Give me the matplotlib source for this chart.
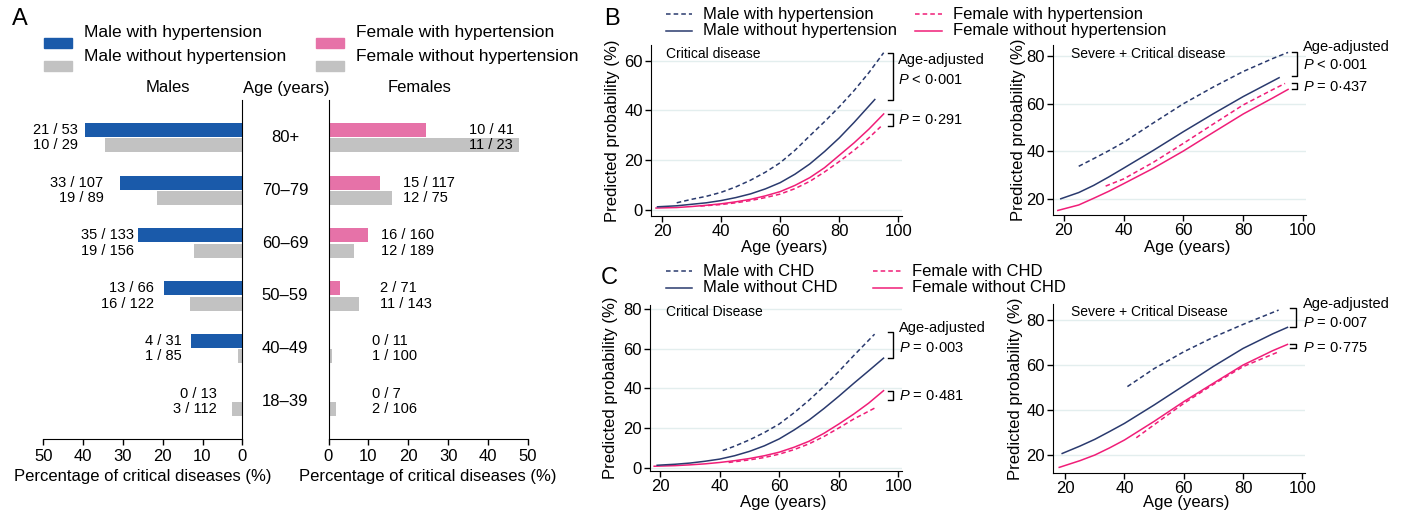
import numpy as np
import matplotlib
matplotlib.use("Agg")
import matplotlib.pyplot as plt
import matplotlib.transforms as mtrans
from matplotlib.patches import Rectangle
from matplotlib.lines import Line2D

plt.rcParams['font.family'] = ['Liberation Sans', 'DejaVu Sans']
plt.rcParams['mathtext.fontset'] = 'custom'
plt.rcParams['mathtext.it'] = 'Liberation Sans:italic'
plt.rcParams['mathtext.rm'] = 'Liberation Sans'

# ---------------- Panel A data ----------------
age_groups = ['80+', '70–79', '60–69', '50–59', '40–49', '18–39']
male_htn_n = [21, 33, 35, 13, 4, 0]
male_htn_N = [53, 107, 133, 66, 31, 13]
male_nohtn_n = [10, 19, 19, 16, 1, 3]
male_nohtn_N = [29, 89, 156, 122, 85, 112]
female_htn_n = [10, 15, 16, 2, 0, 0]
female_htn_N = [41, 117, 160, 71, 11, 7]
female_nohtn_n = [11, 12, 12, 11, 1, 2]
female_nohtn_N = [23, 75, 189, 143, 100, 106]
pct_ticks = [0, 10, 20, 30, 40, 50]

# ---------------- Panel B data (hypertension) ----------------
b1_mh_age = [25, 30, 35, 40, 45, 50, 55, 60, 65, 70, 75, 80, 85, 90, 95]
b1_mh = [2.9, 4.3, 5.5, 7.1, 9.3, 12.0, 15.2, 19.0, 24.0, 29.8, 35.5, 41.5, 48.0, 55.2, 63.2]
b1_m_age = [18.5, 25, 30, 35, 40, 45, 50, 55, 60, 65, 70, 75, 80, 85, 92]
b1_m = [1.3, 1.7, 2.3, 2.9, 3.8, 5.0, 6.5, 8.5, 11.0, 14.4, 18.5, 23.5, 29.0, 35.2, 44.4]
b1_fh_age = [33, 40, 45, 50, 55, 60, 65, 70, 75, 80, 85, 90, 94]
b1_fh = [1.6, 2.2, 2.9, 3.8, 5.0, 6.4, 8.6, 11.5, 15.3, 19.5, 24.0, 29.0, 33.5]
b1_f_age = [18, 25, 30, 35, 40, 45, 50, 55, 60, 65, 70, 75, 80, 85, 90, 95]
b1_f = [0.8, 1.0, 1.4, 1.9, 2.5, 3.3, 4.3, 5.7, 7.4, 9.9, 13.0, 17.0, 22.0, 27.0, 32.5, 38.6]

b2_mh_age = [25, 30, 35, 40, 50, 60, 70, 80, 90, 95]
b2_mh = [33.8, 37.0, 40.3, 43.8, 52.0, 60.0, 67.0, 73.5, 79.0, 81.5]
b2_m_age = [19, 25, 30, 35, 40, 50, 60, 70, 80, 92]
b2_m = [20.2, 22.8, 25.8, 29.3, 33.0, 40.5, 48.3, 55.8, 63.0, 70.9]
b2_fh_age = [34, 40, 50, 60, 70, 80, 90, 94]
b2_fh = [25.5, 28.5, 35.5, 43.4, 51.5, 59.5, 66.0, 68.5]
b2_f_age = [18, 25, 30, 35, 40, 50, 60, 70, 80, 90, 95]
b2_f = [15.3, 17.6, 20.4, 23.3, 26.5, 33.0, 40.2, 48.0, 55.7, 62.5, 66.0]

# ---------------- Panel C data (CHD) ----------------
c1_mh_age = [41, 45, 50, 55, 60, 65, 70, 75, 80, 85, 92]
c1_mh = [8.6, 10.8, 14.0, 17.7, 22.0, 27.7, 34.0, 41.0, 48.5, 56.5, 67.3]
c1_m_age = [19, 25, 30, 35, 40, 45, 50, 55, 60, 65, 70, 75, 80, 85, 90, 95]
c1_m = [1.2, 1.7, 2.3, 3.2, 4.3, 6.0, 8.2, 11.0, 14.5, 19.0, 24.0, 29.8, 36.0, 42.5, 48.8, 55.2]
c1_fh_age = [43, 50, 55, 60, 65, 70, 75, 80, 85, 92]
c1_fh = [2.6, 3.9, 5.1, 6.8, 9.1, 12.0, 15.7, 20.0, 24.5, 30.0]
c1_f_age = [18, 25, 30, 35, 40, 45, 50, 55, 60, 65, 70, 75, 80, 85, 90, 95]
c1_f = [0.7, 1.0, 1.4, 1.9, 2.6, 3.5, 4.6, 6.0, 7.8, 10.3, 13.3, 17.3, 22.0, 27.0, 32.5, 38.8]

c2_mh_age = [41, 50, 60, 70, 80, 92]
c2_mh = [50.5, 58.5, 66.0, 72.5, 78.2, 84.6]
c2_m_age = [19, 25, 30, 35, 40, 50, 60, 70, 80, 90, 95]
c2_m = [20.7, 24.0, 27.0, 30.5, 34.1, 42.3, 50.9, 59.5, 67.5, 74.0, 76.9]
c2_fh_age = [44, 50, 60, 70, 80, 92]
c2_fh = [27.7, 33.5, 43.0, 51.5, 59.4, 66.0]
c2_f_age = [18, 25, 30, 35, 40, 50, 60, 70, 80, 90, 95]
c2_f = [14.5, 17.5, 20.0, 23.2, 26.7, 35.0, 43.8, 52.0, 60.1, 66.5, 69.3]

age_ticks = [20, 40, 60, 80, 100]

# ---------------- styles ----------------
BLUE = '#1a5aaa'
PINK_BAR = '#e672a8'
GREY = '#c2c2c2'
NAVY = '#2a3a6e'
PINK = '#f01e78'
GRID = '#e3eeee'
DASH = (0, (3, 2))

W, H = 1403, 517
fig = plt.figure(figsize=(W / 100, H / 100), dpi=100)
pxT = mtrans.Affine2D().scale(1 / W, -1 / H).translate(0, 1) + fig.transFigure


def rect(l, r, t, b):
    return [l / W, 1 - b / H, (r - l) / W, (b - t) / H]


def ptext(x, y, s, **kw):
    fig.text(x, y, s, transform=pxT, **kw)


# ================= Panel A =================
ypos = np.arange(len(age_groups))
m_htn = 100 * np.array(male_htn_n) / np.array(male_htn_N)
m_no = 100 * np.array(male_nohtn_n) / np.array(male_nohtn_N)
f_htn = 100 * np.array(female_htn_n) / np.array(female_htn_N)
f_no = 100 * np.array(female_nohtn_n) / np.array(female_nohtn_N)

male_label_x = [41.3, 34.9, 27.1, 22.1, 15.1, 6.4]
female_label_x = [35.2, 18.7, 13.1, 12.8, 10.9, 10.9]

axL = fig.add_axes(rect(43.3, 242.3, 100, 439))
axR = fig.add_axes(rect(328.5, 527.8, 100, 439))
bh = 0.265
off = 0.147
axL.barh(ypos - off, m_htn, height=bh, color=BLUE)
axL.barh(ypos + off, m_no, height=bh, color=GREY)
axR.barh(ypos - off, f_htn, height=bh, color=PINK_BAR)
axR.barh(ypos + off, f_no, height=bh, color=GREY)

for ax in (axL, axR):
    ax.set_ylim(5.71, -0.71)
    ax.set_yticks([])
    ax.set_xticks(pct_ticks)
    ax.spines['top'].set_visible(False)
    ax.tick_params(axis='x', direction='out', length=4, width=1, labelsize=12, pad=3)
    ax.set_xlabel('Percentage of critical diseases (%)', fontsize=12, labelpad=4)
axL.set_xlim(50, 0)
axR.set_xlim(0, 50)
axL.spines['left'].set_visible(False)
axR.spines['right'].set_visible(False)

for i in range(len(age_groups)):
    axL.text(male_label_x[i], ypos[i] - off, f"{male_htn_n[i]} / {male_htn_N[i]}",
             ha='right', va='center', fontsize=10.5)
    axL.text(male_label_x[i], ypos[i] + off, f"{male_nohtn_n[i]} / {male_nohtn_N[i]}",
             ha='right', va='center', fontsize=10.5)
    axR.text(female_label_x[i], ypos[i] - off, f"{female_htn_n[i]} / {female_htn_N[i]}",
             ha='left', va='center', fontsize=10.5)
    axR.text(female_label_x[i], ypos[i] + off, f"{female_nohtn_n[i]} / {female_nohtn_N[i]}",
             ha='left', va='center', fontsize=10.5)

bt = mtrans.blended_transform_factory(fig.transFigure, axL.transData)
for i, g in enumerate(age_groups):
    fig.text(285 / W, ypos[i], g, transform=bt, ha='center', va='center', fontsize=12)

ptext(168, 88, 'Males', ha='center', va='center', fontsize=12)
ptext(286, 88, 'Age (years)', ha='center', va='center', fontsize=12)
ptext(420, 88, 'Females', ha='center', va='center', fontsize=12)

# legend A
legA = [(44, 28, BLUE, 'Male with hypertension'),
        (44, 51, GREY, 'Male without hypertension'),
        (316, 28, PINK_BAR, 'Female with hypertension'),
        (316, 51, GREY, 'Female without hypertension')]
for x0, y0, c, lab in legA:
    fig.add_artist(Rectangle((x0, y0 + 10), 27.5, 10, transform=pxT, color=c))
    ptext(x0 + 40, y0 + 5, lab, ha='left', va='center', fontsize=12.5)

ptext(20, 19, 'A', ha='center', va='center', fontsize=17)
ptext(612, 19, 'B', ha='center', va='center', fontsize=17)
ptext(609, 278, 'C', ha='center', va='center', fontsize=17)


# ================= Panels B / C =================
def curve_ax(l, r, t, b, xlim, ylim, yticks, ylab_px, xlab_px):
    ax = fig.add_axes(rect(l, r, t, b))
    ax.set_xlim(xlim)
    ax.set_ylim(ylim)
    ax.set_xticks(age_ticks)
    ax.set_yticks(yticks)
    for s in ('top', 'right'):
        ax.spines[s].set_visible(False)
    ax.grid(axis='y', color=GRID, lw=1)
    ax.set_axisbelow(True)
    ax.tick_params(direction='out', length=4, width=1, labelsize=12, pad=2)
    ax.set_ylabel('Predicted probability (%)', fontsize=12)
    ax.set_xlabel('Age (years)', fontsize=12)
    ax.yaxis.set_label_coords(-ylab_px / (r - l), 0.5)
    ax.xaxis.set_label_coords(0.53, -xlab_px / (b - t))
    return ax


def draw_curves(ax, mh_a, mh, m_a, m, fh_a, fh, f_a, f):
    ax.plot(f_a, f, color=PINK, lw=1.1)
    ax.plot(fh_a, fh, color=PINK, lw=1.1, ls=DASH)
    ax.plot(m_a, m, color=NAVY, lw=1.1)
    ax.plot(mh_a, mh, color=NAVY, lw=1.1, ls=DASH)


def bracket(ax, x, y0, y1, tick=1.8):
    ax.plot([x - tick, x, x, x - tick], [y1, y1, y0, y0], color='k', lw=1, clip_on=False)


axB1 = curve_ax(651, 902, 45, 216, (16.3, 101.2), (-2.4, 66.3), [0, 20, 40, 60], 31, 24)
draw_curves(axB1, b1_mh_age, b1_mh, b1_m_age, b1_m, b1_fh_age, b1_fh, b1_f_age, b1_f)
axB1.text(15 / 251, (216 - 54) / 171, 'Critical disease', transform=axB1.transAxes,
          ha='left', va='center', fontsize=10)
bracket(axB1, 98.3, 44.4, 63.2)
bracket(axB1, 98.3, 33.7, 38.6)
axB1.text(99.9, 60.4, 'Age-adjusted', ha='left', va='center', fontsize=10.5)
axB1.text(99.9, 52.3, r'$P$ < 0·001', ha='left', va='center', fontsize=10.5)
axB1.text(99.9, 36.1, r'$P$ = 0·291', ha='left', va='center', fontsize=10.5)

axB2 = curve_ax(1053, 1306, 45, 215, (16.4, 101.0), (13.4, 84.6), [20, 40, 60, 80], 27, 25)
draw_curves(axB2, b2_mh_age, b2_mh, b2_m_age, b2_m, b2_fh_age, b2_fh, b2_f_age, b2_f)
axB2.text(18 / 253, (215 - 54) / 170, 'Severe + Critical disease', transform=axB2.transAxes,
          ha='left', va='center', fontsize=10)
bracket(axB2, 98.1, 71.6, 81.5)
bracket(axB2, 98.1, 66.1, 68.7)
axB2.text(100.1, 83.6, 'Age-adjusted', ha='left', va='center', fontsize=10.5)
axB2.text(100.1, 76.1, r'$P$ < 0·001', ha='left', va='center', fontsize=10.5)
axB2.text(100.1, 66.9, r'$P$ = 0·437', ha='left', va='center', fontsize=10.5)

axC1 = curve_ax(650, 902, 305, 471, (16.6, 101.2), (-1.7, 82), [0, 20, 40, 60, 80], 32, 24)
draw_curves(axC1, c1_mh_age, c1_mh, c1_m_age, c1_m, c1_fh_age, c1_fh, c1_f_age, c1_f)
axC1.text(16 / 252, (471 - 311.7) / 166, 'Critical Disease', transform=axC1.transAxes,
          ha='left', va='center', fontsize=10)
bracket(axC1, 98.3, 55.2, 68.2)
bracket(axC1, 98.3, 34.0, 38.8)
axC1.text(100.2, 70.4, 'Age-adjusted', ha='left', va='center', fontsize=10.5)
axC1.text(100.2, 60.3, r'$P$ = 0·003', ha='left', va='center', fontsize=10.5)
axC1.text(100.2, 35.9, r'$P$ = 0·481', ha='left', va='center', fontsize=10.5)

axC2 = curve_ax(1053, 1305, 304, 473, (15.9, 100.9), (12, 87.3), [20, 40, 60, 80], 30, 22)
draw_curves(axC2, c2_mh_age, c2_mh, c2_m_age, c2_m, c2_fh_age, c2_fh, c2_f_age, c2_f)
axC2.text(18 / 252, (473 - 311.7) / 169, 'Severe + Critical Disease', transform=axC2.transAxes,
          ha='left', va='center', fontsize=10)
bracket(axC2, 97.7, 76.9, 85.4)
bracket(axC2, 97.7, 67.5, 69.3)
axC2.text(100.1, 87.2, 'Age-adjusted', ha='left', va='center', fontsize=10.5)
axC2.text(100.1, 79.0, r'$P$ = 0·007', ha='left', va='center', fontsize=10.5)
axC2.text(100.1, 67.6, r'$P$ = 0·775', ha='left', va='center', fontsize=10.5)


# legends B / C
def legend_entry(x0, x1, y, color, ls, label, tx):
    fig.add_artist(Line2D([x0, x1], [y, y], transform=pxT, color=color, lw=1.1, ls=ls))
    ptext(tx, y, label, ha='left', va='center', fontsize=12)


legend_entry(666, 692, 14, NAVY, DASH, 'Male with hypertension', 703)
legend_entry(666, 692, 31, NAVY, '-', 'Male without hypertension', 703)
legend_entry(915, 942, 14, PINK, DASH, 'Female with hypertension', 953)
legend_entry(915, 942, 31, PINK, '-', 'Female without hypertension', 953)

legend_entry(666, 692, 271, NAVY, DASH, 'Male with CHD', 703)
legend_entry(666, 692, 288, NAVY, '-', 'Male without CHD', 703)
legend_entry(873, 902, 271, PINK, DASH, 'Female with CHD', 912)
legend_entry(873, 902, 288, PINK, '-', 'Female without CHD', 912)

fig.savefig('out.png', dpi=100)
